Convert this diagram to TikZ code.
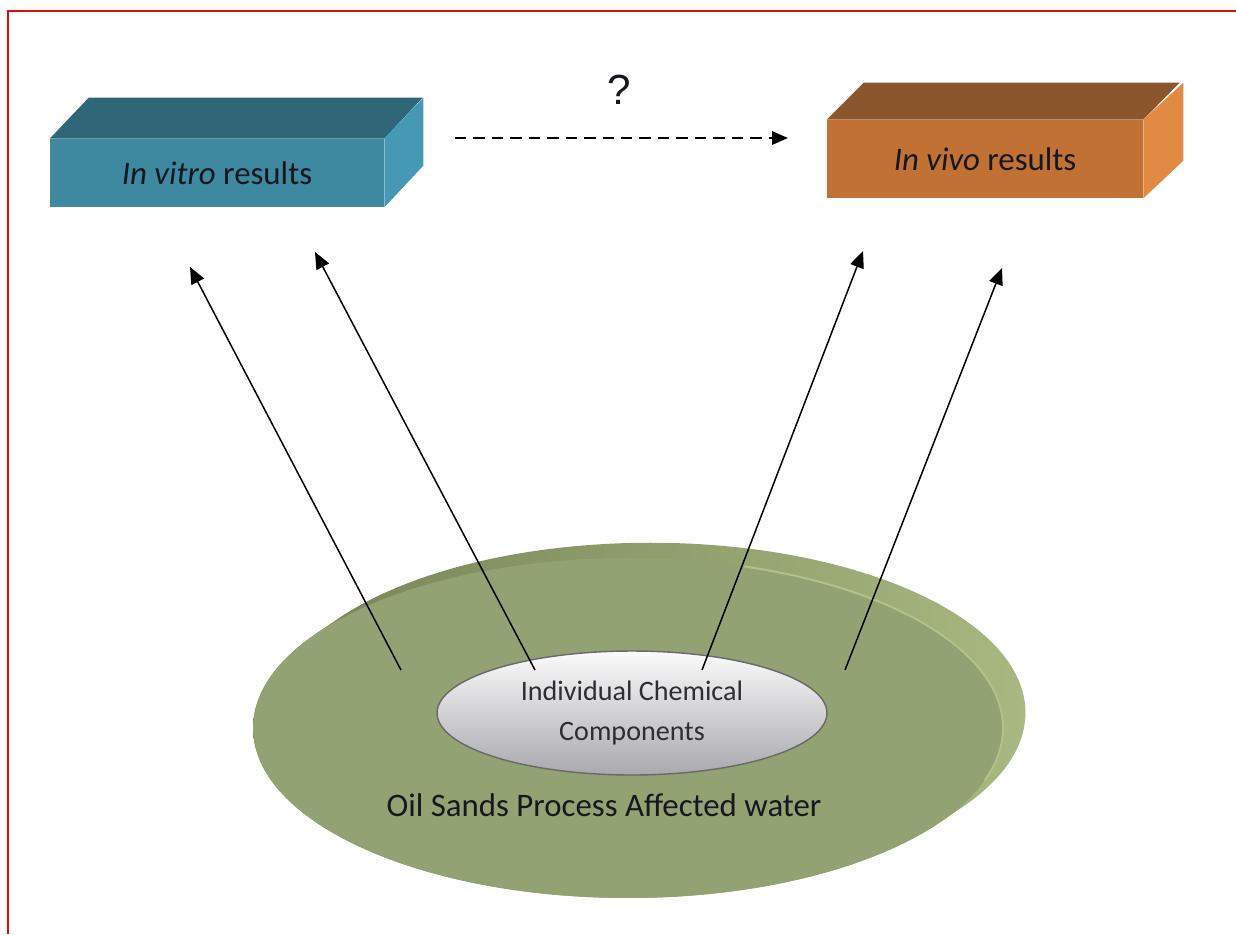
\documentclass[tikz,border=0pt]{standalone}
\usepackage{fontspec}
\setmainfont{Carlito}
\newfontfamily\arialf{Liberation Sans}
\usetikzlibrary{arrows.meta,shapes.geometric}
\definecolor{frameRed}{RGB}{222,12,12}
\definecolor{vitroFront}{RGB}{62,137,160}
\definecolor{vitroTop}{RGB}{47,103,120}
\definecolor{vitroSide}{RGB}{70,153,180}
\definecolor{vivoFront}{RGB}{193,113,52}
\definecolor{vivoTop}{RGB}{140,86,45}
\definecolor{vivoSide}{RGB}{224,138,68}
\definecolor{diskFront}{RGB}{146,162,114}
\definecolor{rimDark}{RGB}{116,130,86}
\definecolor{rimLight}{RGB}{168,184,128}
\definecolor{diskHi}{RGB}{178,194,140}
\definecolor{iccBottom}{RGB}{168,168,174}
\definecolor{iccBorder}{RGB}{105,105,105}
\definecolor{txt}{RGB}{22,24,30}
\definecolor{txtgrey}{RGB}{45,45,50}
\begin{document}
\begin{tikzpicture}[x=0.02cm,y=-0.02cm,
  boxface/.style={inner sep=0pt, text=txt, font=\fontsize{18.7}{22}\selectfont},
  uparrow/.style={draw=black, line width=0.85pt, -{Triangle[length=9.5pt,width=8pt]}},
  qarrow/.style={draw=black, line width=1.1pt, dash pattern=on 6.5pt off 4pt, -{Triangle[length=9pt,width=7.5pt]}},
  bigtext/.style={text=txt, font=\fontsize{18.7}{22}\selectfont},
  smalltext/.style={text=txtgrey, font=\fontsize{16}{22.7}\selectfont, align=center}
]
\useasboundingbox (0,0) rectangle (1236,934);
\fill[white] (0,0) rectangle (1236,934);
\draw[frameRed, line width=1.7pt] (8,934) -- (8,11) -- (1236,11);

% In vitro box
\node[boxface, fill=vitroFront, minimum width=6.68cm, minimum height=1.36cm] (vitro) at (217,173) {\textit{In vitro} results};
\fill[vitroTop] (vitro.north west) -- ++(39,-41) -- ++(334,0) -- (vitro.north east) -- cycle;
\fill[vitroSide] (vitro.north east) -- ++(39,-41) -- ++(0,68) -- (vitro.south east) -- cycle;

% In vivo box
\node[boxface, fill=vivoFront, minimum width=6.32cm, minimum height=1.56cm] (vivo) at (985,159) {\textit{In vivo} results};
\fill[vivoTop] (vivo.north west) -- ++(37,-37) -- ++(316,0) -- (vivo.north east) -- cycle;
\fill[vivoSide] (vivo.north east) -- ++(40,-37) -- ++(0,78) -- (vivo.south east) -- cycle;

% question and dashed arrow
\node[font=\arialf\fontsize{24}{28}\selectfont, text=txt] (q) at (619,90) {?};
\coordinate (ds) at (455,138);
\coordinate (de) at (788,138);
\draw[qarrow] (ds) -- (de);

% disk
\shade[left color=rimDark, right color=rimLight]
  \foreach \t in {0,0.1,...,1.0} { (628+25*\t,728-17*\t) ellipse [x radius=7.5cm, y radius=3.4cm] };
\fill[diskFront] (628,728) ellipse [x radius=7.5cm, y radius=3.4cm];
\draw[diskHi, line width=1.1pt] (628,728) ++(72:7.5cm and 3.4cm) arc[start angle=72, end angle=-18, x radius=7.5cm, y radius=3.4cm];

% inner ellipse
\node[ellipse, draw=iccBorder, line width=0.8pt, top color=white!97!gray, bottom color=iccBottom,
      minimum width=7.8cm, minimum height=2.48cm, inner sep=0pt, smalltext] (icc) at (632,713)
      {Individual Chemical\\Components};

\node[bigtext] (ospw) at (604,805) {Oil Sands Process Affected water};

% arrows
\coordinate (a1s) at (401,670); \coordinate (a1e) at (190,267);
\coordinate (a2s) at (535,670); \coordinate (a2e) at (315,252);
\coordinate (a3s) at (702,670); \coordinate (a3e) at (863,251);
\coordinate (a4s) at (845,670); \coordinate (a4e) at (1002,268);
\draw[uparrow] (a1s) -- (a1e);
\draw[uparrow] (a2s) -- (a2e);
\draw[uparrow] (a3s) -- (a3e);
\draw[uparrow] (a4s) -- (a4e);
\end{tikzpicture}
\end{document}
